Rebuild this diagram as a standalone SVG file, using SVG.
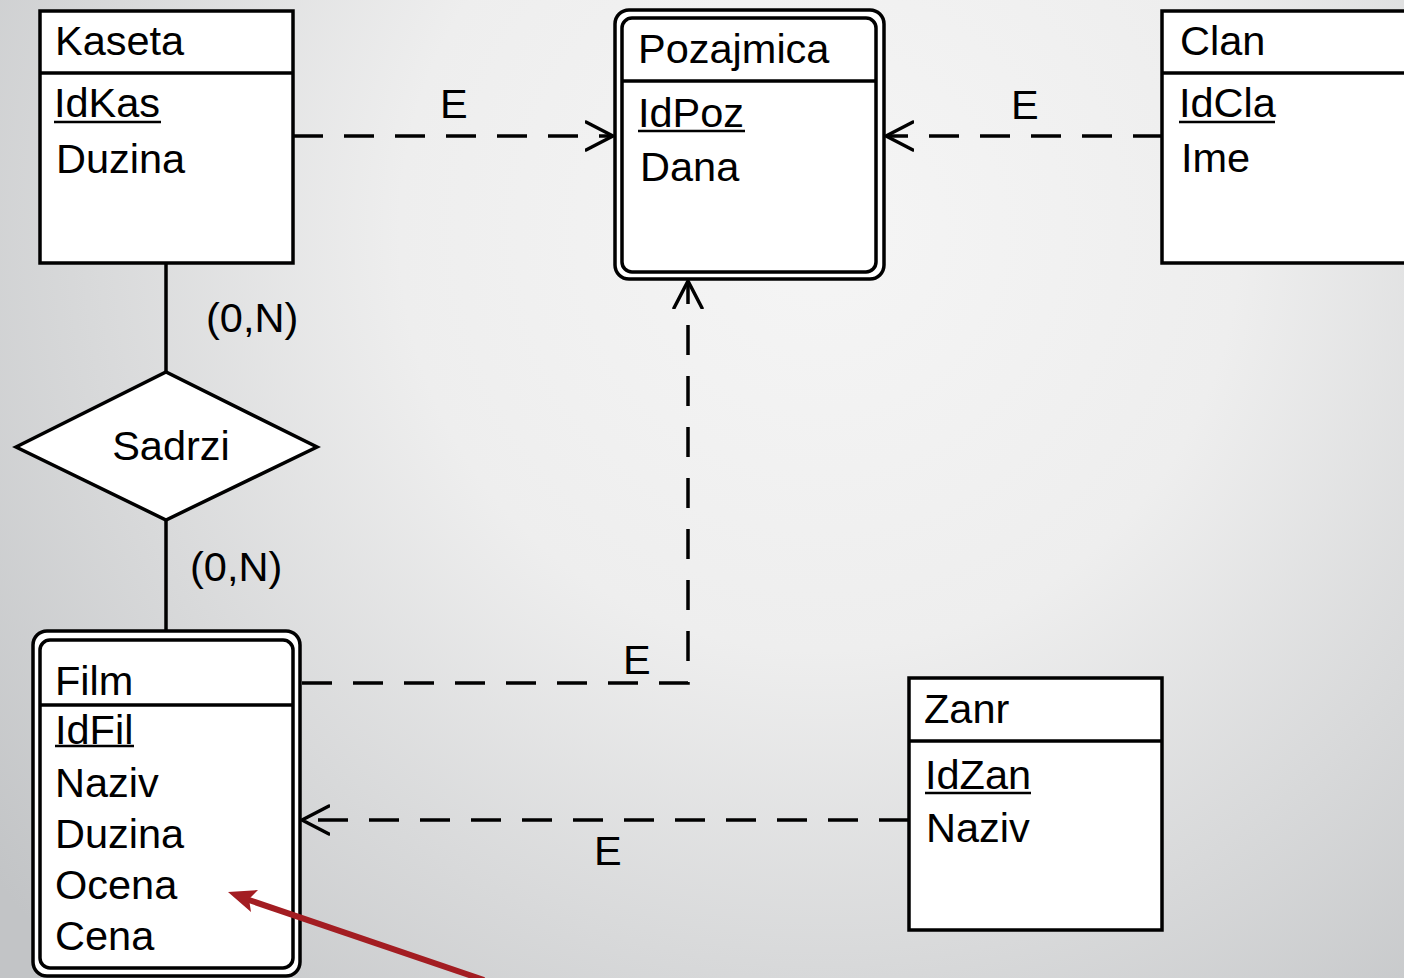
<svg xmlns="http://www.w3.org/2000/svg" width="1404" height="978" viewBox="0 0 1404 978">
<defs>
<radialGradient id="bg" cx="820" cy="230" r="1050" gradientUnits="userSpaceOnUse">
<stop offset="0" stop-color="#f5f5f5"/>
<stop offset="0.4" stop-color="#eeeeee"/>
<stop offset="1" stop-color="#c2c4c6"/>
</radialGradient>
<marker id="open" viewBox="0 0 30 32" refX="28" refY="16" markerWidth="30" markerHeight="32" markerUnits="userSpaceOnUse" orient="auto">
<path d="M1,2 L28,16 L1,30" fill="none" stroke="#000" stroke-width="3.5" stroke-linecap="round" stroke-linejoin="round"/>
</marker>
</defs>
<style>
.box{fill:#fff;stroke:#000;stroke-width:3.5}
.div{stroke:#000;stroke-width:3.5}
.t{font-family:"Liberation Sans",Arial,sans-serif;font-size:41.5px;fill:#000}
.ul{stroke:#000;stroke-width:2.5}
.ln{stroke:#000;stroke-width:3.5;fill:none}
.dash{stroke:#000;stroke-width:3.5;fill:none;stroke-dasharray:30 21}
</style>
<rect width="1404" height="978" fill="url(#bg)"/>

<g id="connectors">
<line class="ln" x1="166" y1="263" x2="166" y2="372"/>
<line class="ln" x1="166" y1="520" x2="166" y2="632"/>
<path class="dash" d="M293,136 L613,136" marker-end="url(#open)"/>
<path class="dash" d="M1163,136 L886,136" marker-end="url(#open)"/>
<path class="dash" d="M302,683 L688,683 L688,281" marker-end="url(#open)"/>
<path class="dash" d="M909,820 L302,820" marker-end="url(#open)"/>
<text class="t" x="440" y="118">E</text>
<text class="t" x="1011" y="119">E</text>
<text class="t" x="623" y="674">E</text>
<text class="t" x="594" y="865">E</text>
<text class="t" x="206" y="332">(0,N)</text>
<text class="t" x="190" y="581">(0,N)</text>
</g>

<g id="Kaseta">
<rect class="box" x="40" y="11" width="253" height="252"/>
<line class="div" x1="40" y1="73" x2="293" y2="73"/>
<text class="t" x="55" y="55">Kaseta</text>
<text class="t" x="54" y="117">IdKas</text>
<line class="ul" x1="54" y1="122" x2="161" y2="122"/>
<text class="t" x="56" y="173">Duzina</text>
</g>

<g id="Pozajmica">
<rect class="box" x="615" y="10" width="269" height="269" rx="14"/>
<rect class="box" x="622" y="18" width="254" height="254" rx="10"/>
<line class="div" x1="622" y1="81" x2="876" y2="81"/>
<text class="t" x="638" y="63">Pozajmica</text>
<text class="t" x="638" y="127">IdPoz</text>
<line class="ul" x1="638" y1="131" x2="745" y2="131"/>
<text class="t" x="640" y="181">Dana</text>
</g>

<g id="Clan">
<rect class="box" x="1162" y="11" width="260" height="252"/>
<line class="div" x1="1162" y1="73" x2="1404" y2="73"/>
<text class="t" x="1180" y="55">Clan</text>
<text class="t" x="1179" y="117">IdCla</text>
<line class="ul" x1="1179" y1="122" x2="1275" y2="122"/>
<text class="t" x="1181" y="172">Ime</text>
</g>

<g id="Sadrzi">
<polygon class="box" points="16,447 166,372 317,447 166,520"/>
<text class="t" x="171" y="460" text-anchor="middle">Sadrzi</text>
</g>

<g id="Film">
<rect class="box" x="33" y="631" width="267" height="345" rx="14"/>
<rect class="box" x="40" y="640" width="253" height="328" rx="10"/>
<line class="div" x1="40" y1="705" x2="293" y2="705"/>
<text class="t" x="55" y="695">Film</text>
<text class="t" x="55" y="744">IdFil</text>
<line class="ul" x1="55" y1="746" x2="134" y2="746"/>
<text class="t" x="55" y="797">Naziv</text>
<text class="t" x="55" y="848">Duzina</text>
<text class="t" x="55" y="899">Ocena</text>
<text class="t" x="55" y="950">Cena</text>
</g>

<g id="Zanr">
<rect class="box" x="909" y="678" width="253" height="252"/>
<line class="div" x1="909" y1="741" x2="1162" y2="741"/>
<text class="t" x="924" y="723">Zanr</text>
<text class="t" x="925" y="789">IdZan</text>
<line class="ul" x1="925" y1="793" x2="1031" y2="793"/>
<text class="t" x="926" y="842">Naziv</text>
</g>

<g id="pointer">
<line x1="484" y1="980" x2="240" y2="897" stroke="#a31d22" stroke-width="6"/>
<path d="M228,892 L258,890 L249,899 L251,912 Z" fill="#a31d22"/>
</g>
</svg>
